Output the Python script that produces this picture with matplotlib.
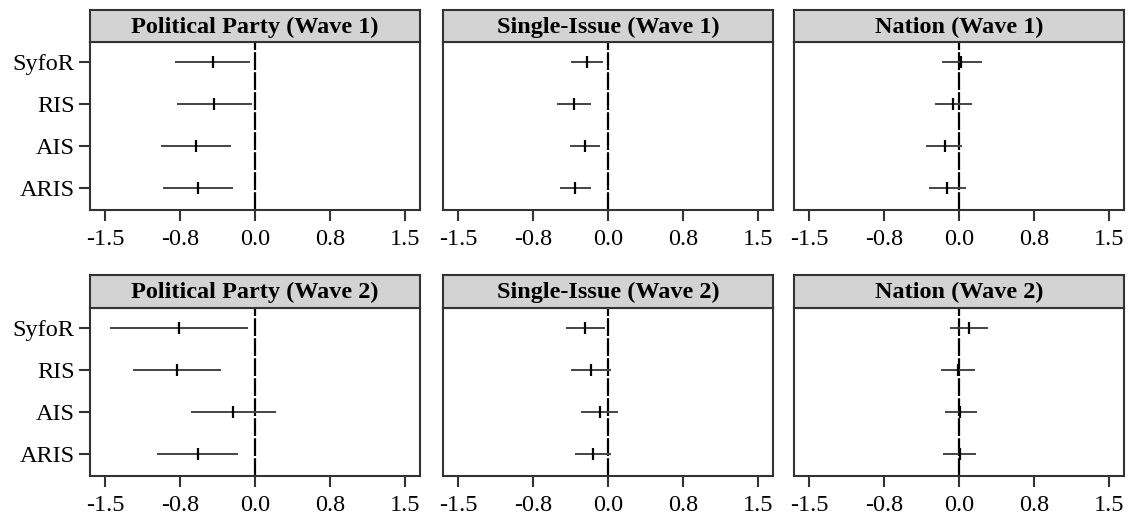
import matplotlib
matplotlib.use("Agg")
import matplotlib.pyplot as plt

plt.rcParams['font.family'] = ['Liberation Serif', 'DejaVu Serif']

GROUPS = ["SyfoR", "RIS", "AIS", "ARIS"]

TITLES = ["Political Party (Wave 1)", "Single-Issue (Wave 1)", "Nation (Wave 1)",
          "Political Party (Wave 2)", "Single-Issue (Wave 2)", "Nation (Wave 2)"]

# point estimates, lower and upper bounds per panel (order of GROUPS)
party_w1_est = [-0.42, -0.41, -0.59, -0.57]
party_w1_lo = [-0.80, -0.78, -0.94, -0.92]
party_w1_hi = [-0.05, -0.03, -0.24, -0.22]

issue_w1_est = [-0.21, -0.34, -0.23, -0.33]
issue_w1_lo = [-0.37, -0.51, -0.38, -0.48]
issue_w1_hi = [-0.05, -0.17, -0.08, -0.17]

nation_w1_est = [0.02, -0.06, -0.14, -0.12]
nation_w1_lo = [-0.17, -0.24, -0.33, -0.30]
nation_w1_hi = [0.23, 0.13, 0.03, 0.07]

party_w2_est = [-0.76, -0.78, -0.22, -0.57]
party_w2_lo = [-1.45, -1.22, -0.64, -0.98]
party_w2_hi = [-0.07, -0.34, 0.21, -0.17]

issue_w2_est = [-0.23, -0.17, -0.08, -0.15]
issue_w2_lo = [-0.42, -0.37, -0.27, -0.33]
issue_w2_hi = [-0.03, 0.03, 0.10, 0.03]

nation_w2_est = [0.10, -0.01, 0.01, 0.01]
nation_w2_lo = [-0.09, -0.18, -0.14, -0.16]
nation_w2_hi = [0.29, 0.16, 0.18, 0.17]

PANELS = [
    (party_w1_est, party_w1_lo, party_w1_hi),
    (issue_w1_est, issue_w1_lo, issue_w1_hi),
    (nation_w1_est, nation_w1_lo, nation_w1_hi),
    (party_w2_est, party_w2_lo, party_w2_hi),
    (issue_w2_est, issue_w2_lo, issue_w2_hi),
    (nation_w2_est, nation_w2_lo, nation_w2_hi),
]

XTICKS = [-1.5, -0.75, 0.0, 0.75, 1.5]
XTICKLABELS = ["-1.5", "-0.8", "0.0", "0.8", "1.5"]

W, H = 1131, 518
fig = plt.figure(figsize=(W / 100, H / 100), dpi=100)

lefts = [90, 443, 794]
pw = 330
rows = [(10, 42, 210), (275, 308, 476)]  # strip top, plot top, plot bottom (px from top)

edge = "#333333"
ypos = list(range(1, len(GROUPS) + 1))
FS = 17.5

for i, (est, lo, hi) in enumerate(PANELS):
    r, c = divmod(i, 3)
    st, pt, pb = rows[r]
    x0 = lefts[c] / W
    ax = fig.add_axes([x0, 1 - pb / H, pw / W, (pb - pt) / H])
    sax = fig.add_axes([x0, 1 - pt / H, pw / W, (pt - st) / H])

    # strip
    sax.set_facecolor("#d3d3d3")
    sax.set_xticks([])
    sax.set_yticks([])
    for s in sax.spines.values():
        s.set_color(edge)
        s.set_linewidth(1.5)
    sax.text(0.5, 0.47, TITLES[i], ha="center", va="center", fontsize=FS,
             fontweight="bold", transform=sax.transAxes)

    ax.axvline(0, color="black", lw=1.6, ls=(0, (8, 1)), zorder=1)
    ax.hlines(ypos, lo, hi, color="#444444", lw=1.4, zorder=2)
    ax.plot(est, ypos, "|", color="black", markersize=8, markeredgewidth=1.6, zorder=3)

    ax.set_xlim(-1.65, 1.65)
    ax.set_ylim(4.52, 0.52)
    ax.set_xticks(XTICKS)
    ax.set_xticklabels(XTICKLABELS, fontsize=FS)
    ax.set_yticks(ypos)
    if c == 0:
        ax.set_yticklabels(GROUPS, fontsize=FS)
    else:
        ax.tick_params(axis="y", left=False, labelleft=False)
    ax.tick_params(length=8, width=1.5, color=edge)
    ax.tick_params(axis="x", pad=6)
    ax.tick_params(axis="y", pad=3)
    for s in ax.spines.values():
        s.set_color(edge)
        s.set_linewidth(1.5)

fig.savefig("out.png", dpi=100)
